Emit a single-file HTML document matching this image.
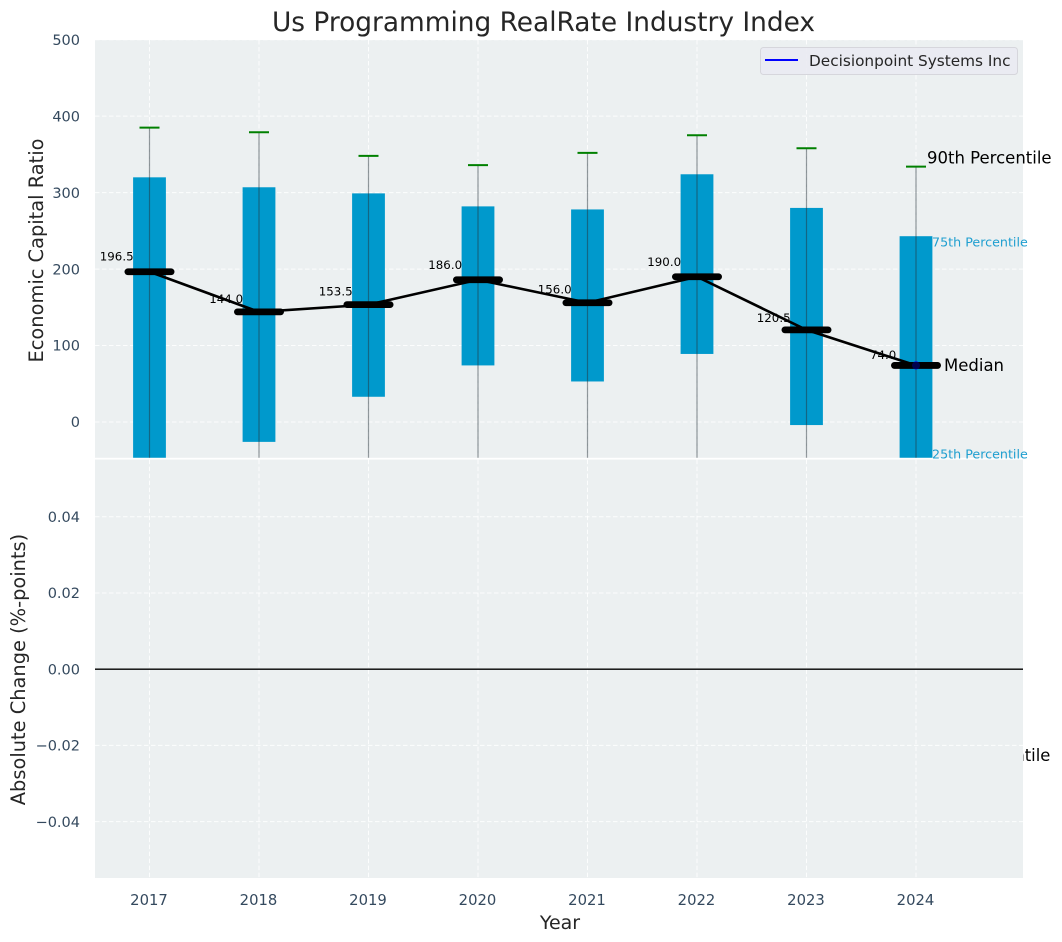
<!DOCTYPE html>
<html lang="en">
<head>
<meta charset="utf-8">
<title>Us Programming RealRate Industry Index</title>
<style>
html,body{margin:0;padding:0;background:#fff;}
svg{display:block;font-family:"DejaVu Sans","Liberation Sans",sans-serif;}
</style>
</head>
<body>
<svg id="chart" xmlns="http://www.w3.org/2000/svg" width="1062" height="942" viewBox="0 0 1062 942">
  <defs>
    <clipPath id="upper-clip"><rect x="95" y="40" width="928" height="417.8"/></clipPath>
  </defs>
  <rect x="95" y="40" width="928" height="417.8" fill="#ecf0f1"/>
  <g id="upper-grid"></g>
  <g id="upper-marks" clip-path="url(#upper-clip)"></g>
  <g id="median-labels"></g>
  <g id="median-marks" clip-path="url(#upper-clip)"></g>
  <g id="annotations"></g>
  <rect x="95" y="459.6" width="928" height="418.4" fill="#ecf0f1"/>
  <g id="lower-grid"></g>
  <line id="zero-line" x1="95" x2="1023" stroke="#000" stroke-width="1.3"/>
  <g id="tick-labels"></g>
  <text x="543.5" y="31" text-anchor="middle" font-size="26.4px" fill="#262626">Us Programming RealRate Industry Index</text>
  <text transform="translate(43,250.5) rotate(-90)" text-anchor="middle" font-size="19.4px" fill="#262626">Economic Capital Ratio</text>
  <text transform="translate(25,669.5) rotate(-90)" text-anchor="middle" font-size="19.4px" fill="#262626">Absolute Change (%-points)</text>
  <text x="560" y="929" text-anchor="middle" font-size="19px" fill="#262626">Year</text>
  <g>
    <rect x="760.5" y="47.5" width="257" height="27" rx="3" fill="#eaeaf2" fill-opacity="0.9" stroke="#d6d6dc" stroke-width="1"/>
    <line x1="765" x2="798" y1="60" y2="60" stroke="#0000ff" stroke-width="2"/>
    <text x="809" y="66" font-size="15.3px" fill="#262626">Decisionpoint Systems Inc</text>
  </g>
</svg>
<script>
var years = [2017, 2018, 2019, 2020, 2021, 2022, 2023, 2024];
var p90 = [385, 379, 348, 336, 352, 375, 358, 334];
var p75 = [320, 307, 299, 282, 278, 324, 280, 243];
var medians = [196.5, 144.0, 153.5, 186.0, 156.0, 190.0, 120.5, 74.0];
var p25 = [-60, -26, 33, 74, 53, 89, -4, -52];
var p10 = [-320, -300, -260, -220, -240, -200, -300, -437];
var companyValues = [74];
var companyYears = [2024];
var upperTicks = [0, 100, 200, 300, 400, 500];
var lowerTicks = [-0.04, -0.02, 0, 0.02, 0.04];

var NS = 'http://www.w3.org/2000/svg';
function xScale(year) { return 149.5 + (year - 2017) * 109.5; }
function yUpper(v) { return 422 - v * 0.7646; }
function yLower(v) { return 669.2 - v * 3810; }
function make(tag, parent, attrs) {
  var el = document.createElementNS(NS, tag);
  for (var k in attrs) { el.setAttribute(k, attrs[k]); }
  parent.appendChild(el);
  return el;
}
var upperGrid = document.getElementById('upper-grid');
var lowerGrid = document.getElementById('lower-grid');
var upperMarks = document.getElementById('upper-marks');
var medianLabels = document.getElementById('median-labels');
var medianMarks = document.getElementById('median-marks');
var tickLabels = document.getElementById('tick-labels');
var gridStyle = {stroke: '#ffffff', 'stroke-width': 1, 'stroke-dasharray': '4.5 2.5', 'stroke-opacity': 0.85};

upperTicks.forEach(function (t) {
  var y = yUpper(t);
  var g = make('line', upperGrid, Object.assign({x1: 95, x2: 1023, y1: y, y2: y}, gridStyle));
  
  
  var lab = make('text', tickLabels, {x: 80, y: y + 5.2, 'text-anchor': 'end', 'font-size': '14.5px', fill: '#34495e'});
  
  
  lab.textContent = String(t);
});

lowerTicks.forEach(function (t) {
  var y = yLower(t);
  if (t !== 0) {
    var g = make('line', lowerGrid, Object.assign({x1: 95, x2: 1023, y1: y, y2: y}, gridStyle));
    
    
  }
  var lab = make('text', tickLabels, {x: 80, y: y + 5.2, 'text-anchor': 'end', 'font-size': '14.5px', fill: '#34495e'});
  
  
  lab.textContent = t.toFixed(2).replace('-', '\u2212');
});

var zero = document.getElementById('zero-line');
zero.setAttribute('y1', yLower(0));
zero.setAttribute('y2', yLower(0));

years.forEach(function (year, i) {
  var x = xScale(year);
  var gu = make('line', upperGrid, Object.assign({x1: x, x2: x, y1: 40, y2: 457.8}, gridStyle));
  
  
  var gl = make('line', lowerGrid, Object.assign({x1: x, x2: x, y1: 459.6, y2: 878}, gridStyle));
  
  
  var lab = make('text', tickLabels, {x: x - 0.5, y: 905, 'text-anchor': 'middle', 'font-size': '14.8px', fill: '#34495e'});
  
  
  lab.textContent = String(year);

  var barTop = yUpper(p75[i]);
  var bar = make('rect', upperMarks, {x: x - 16.4, y: barTop, width: 32.8, height: yUpper(p25[i]) - barTop, fill: '#0099cc'});
  
  

  var whisker = make('line', upperMarks, {x1: x, x2: x, y1: yUpper(p90[i]), y2: yUpper(p10[i]), stroke: '#26343c', 'stroke-opacity': 0.5, 'stroke-width': 1.2});
  
  

  var cap = make('line', upperMarks, {x1: x - 10, x2: x + 10, y1: yUpper(p90[i]), y2: yUpper(p90[i]), stroke: '#008000', 'stroke-width': 2});
  
  

  var capLow = make('line', upperMarks, {x1: x - 10, x2: x + 10, y1: yUpper(p10[i]), y2: yUpper(p10[i]), stroke: '#008000', 'stroke-width': 2});
  
  

  var ml = make('text', medianLabels, {x: x - 32.8, y: yUpper(medians[i] * 1.05) - 3.5, 'text-anchor': 'middle', 'font-size': '11.8px', fill: '#000'});
  
  
  ml.textContent = medians[i].toFixed(1);
});

var trend = make('polyline', medianMarks, {
  points: years.map(function (year, i) { return xScale(year) + ',' + yUpper(medians[i]); }).join(' '),
  fill: 'none', stroke: '#000', 'stroke-width': 2.6
});



companyYears.forEach(function (year, i) {
  var dot = make('circle', medianMarks, {cx: xScale(year), cy: yUpper(companyValues[i]), r: 4, fill: '#0000ff'});
  
  
});

years.forEach(function (year, i) {
  var x = xScale(year);
  var y = yUpper(medians[i]);
  var m = make('line', medianMarks, {x1: x - 21.6, x2: x + 21.6, y1: y, y2: y, stroke: '#000', 'stroke-width': 6.8, 'stroke-linecap': 'round'});
  
  
});

companyYears.forEach(function (year, i) {
  var dot = make('circle', medianMarks, {cx: xScale(year), cy: yUpper(companyValues[i]), r: 4, fill: '#0000ff', 'fill-opacity': 0.3});
  
  
});

var annotations = document.getElementById('annotations');
var last = years.length - 1;
var lastX = xScale(years[last]);
var a90 = make('text', annotations, {x: lastX + 11, y: yUpper(p90[last]) - 3, 'font-size': '16.5px', fill: '#000'});


a90.textContent = '90th Percentile';
var a75 = make('text', annotations, {x: lastX + 16, y: yUpper(p75[last]) + 10.5, 'font-size': '12.7px', fill: '#1f9fd0'});


a75.textContent = '75th Percentile';
var aMed = make('text', annotations, {x: lastX + 28, y: yUpper(medians[last]) + 5.5, 'font-size': '16.5px', fill: '#000'});


aMed.textContent = 'Median';
var a25 = make('text', annotations, {x: lastX + 16, y: yUpper(p25[last]) - 3.3, 'font-size': '12.7px', fill: '#1f9fd0'});


a25.textContent = '25th Percentile';
var a10 = make('text', annotations, {x: lastX + 10.6, y: yUpper(p10[last]) + 5, 'font-size': '16.4px', fill: '#000'});


a10.textContent = '10th Percentile';
</script>
</body>
</html>
